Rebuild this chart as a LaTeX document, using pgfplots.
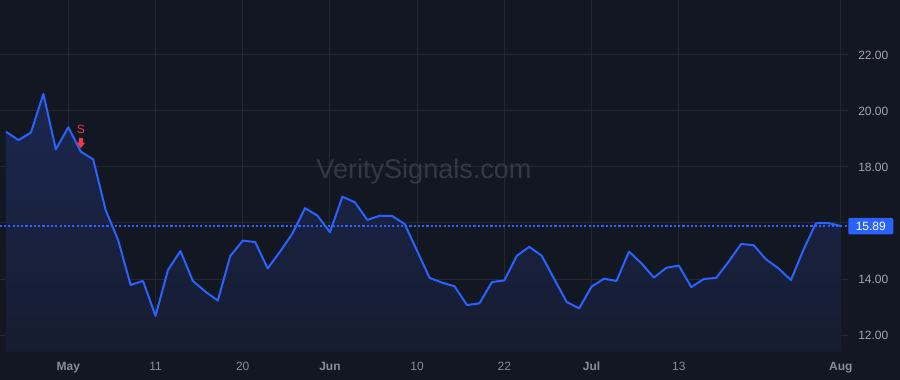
\documentclass[border=0pt]{standalone}
\usepackage{pgfplots}
\pgfplotsset{compat=1.18}
\usepackage{pgfplotstable}
\usepackage{fontspec}
\setmainfont{Liberation Sans}
\definecolor{bg}{HTML}{131722}
\definecolor{gridc}{HTML}{242833}
\definecolor{linec}{HTML}{2962FF}
\definecolor{lbl}{HTML}{A3A6AF}
\definecolor{xlbl}{HTML}{8A8D96}
\definecolor{wm}{HTML}{343844}
\definecolor{sellc}{HTML}{F23645}
\definecolor{filltop}{HTML}{1B2750}
\definecolor{fillbot}{HTML}{161C30}

\pgfplotstableread{
x y
0 19.26
1 18.96
2 19.23
3 20.61
4 18.63
5 19.42
6 18.55
7 18.27
8 16.46
9 15.39
10 13.79
11 13.93
12 12.68
13 14.32
14 15.00
15 13.93
16 13.55
17 13.23
18 14.82
19 15.37
20 15.32
21 14.38
22 14.98
23 15.63
24 16.53
25 16.26
26 15.67
27 16.94
28 16.74
29 16.11
30 16.26
31 16.25
32 15.96
33 15.00
34 14.04
35 13.87
36 13.74
37 13.07
38 13.13
39 13.89
40 13.95
41 14.83
42 15.15
43 14.83
44 14.00
45 13.18
46 12.95
47 13.73
48 14.01
49 13.93
50 14.98
51 14.56
52 14.05
53 14.40
54 14.48
55 13.71
56 14.00
57 14.04
58 14.62
59 15.25
60 15.21
61 14.70
62 14.38
63 13.96
64 15.04
65 15.99
66 16.00
67 15.89
}\pricedata

\pgfdeclareplotmark{sellarrow}{%
  \pgfpathmoveto{\pgfpoint{-1.5bp}{10.3bp}}%
  \pgfpathlineto{\pgfpoint{1.5bp}{10.3bp}}%
  \pgfpathlineto{\pgfpoint{1.5bp}{6.8bp}}%
  \pgfpathlineto{\pgfpoint{3.3bp}{6.8bp}}%
  \pgfpathlineto{\pgfpoint{0bp}{2.6bp}}%
  \pgfpathlineto{\pgfpoint{-3.3bp}{6.8bp}}%
  \pgfpathlineto{\pgfpoint{-1.5bp}{6.8bp}}%
  \pgfpathclose
  \pgfusepathqfill
  \pgftext[at=\pgfpoint{0bp}{16.5bp}]{\fontsize{9bp}{10bp}\selectfont\color{sellc}S}%
}

\begin{document}
\begin{tikzpicture}
\useasboundingbox (0,0) rectangle (675bp,285bp);
\fill[bg] (0,0) rectangle (675bp,285bp);
\begin{axis}[
  at={(0,21bp)}, anchor=south west,
  scale only axis, width=636bp, height=264bp,
  xmin=-0.4815, xmax=67.58,
  ymin=11.393, ymax=23.964,
  axis line style={draw=none},
  major tick length=0pt,
  grid=major,
  major grid style={draw=gridc, line width=0.75bp},
  xtick={5,12,19,26,33,40,47,54,67},
  xticklabels={\textbf{May},11,20,\textbf{Jun},10,22,\textbf{Jul},13,\textbf{Aug}},
  xticklabel style={anchor=base, inner sep=0pt, yshift=-13.7bp, font=\fontsize{9bp}{10bp}\selectfont, text=xlbl},
  ytick={12,14,18,20,22},
  extra y ticks={16},
  extra y tick labels={},
  extra y tick style={grid=major, major grid style={draw=gridc, line width=0.75bp}},
  yticklabel pos=right,
  yticklabel={\pgfmathprintnumber[fixed,fixed zerofill,precision=2]{\tick}},
  /pgf/number format/assume math mode=true,
  yticklabel style={anchor=west, inner sep=0pt, xshift=7.5bp, font=\fontsize{9bp}{10bp}\selectfont, text=lbl},
  clip mode=individual,
]
\node[text=wm, font=\fontsize{20.3bp}{22bp}\selectfont] at (rel axis cs:0.5,0.512) {VeritySignals.com};
\addplot[draw=none, top color=filltop, bottom color=fillbot] table[x=x,y=y] {\pricedata}
  -- (axis cs:67,11.393) -- (axis cs:0,11.393) -- cycle;
\addplot[linec, line width=0.9bp, dash pattern=on 1.6bp off 1.6bp] coordinates {(-0.5,15.89) (67.6,15.89)};
\addplot[linec, line width=1.5bp, line join=round, mark=none] table[x=x,y=y] {\pricedata};
\addplot[only marks, mark=sellarrow, sellc, fill=sellc] coordinates {(6,18.55)};
\node[fill=linec, text=white, anchor=west, inner sep=0pt, minimum width=33.75bp, minimum height=12.5bp, rounded corners=1bp, font=\fontsize{9bp}{10bp}\selectfont] at (rel axis cs:1,0.3577) {15.89};
\end{axis}
\end{tikzpicture}
\end{document}
